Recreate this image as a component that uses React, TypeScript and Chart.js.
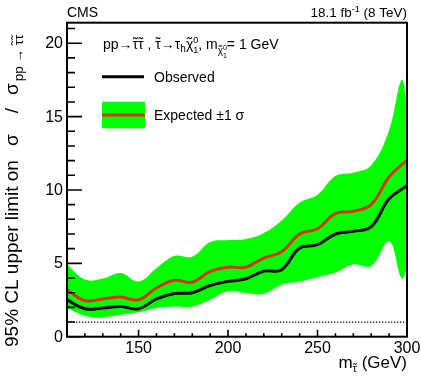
import { useEffect, useRef } from "react";
import { Chart, registerables } from "chart.js";

Chart.register(...registerables);

// Stau mass points (GeV)
const masses = [110, 120, 130, 140, 150, 160, 170, 180, 190, 200, 210, 220, 230, 240, 250, 260, 270, 280, 290, 300];
// 95% CL upper limits on sigma / sigma_theory
const observed = [2.52, 1.91, 1.96, 2.06, 1.91, 2.57, 2.94, 3.0, 3.49, 3.77, 3.95, 4.47, 4.57, 6.04, 6.27, 7.0, 7.18, 7.5, 9.4, 10.29];
const expected = [3.2, 2.46, 2.57, 2.7, 2.52, 3.32, 3.84, 3.71, 4.45, 4.74, 4.74, 5.36, 5.79, 7.0, 7.36, 8.39, 8.54, 9.0, 10.89, 12.04];
// +-1 sigma band on the expected limit
const bandMasses = [110, 120, 130, 140, 150, 160, 170, 180, 190, 200, 210, 220, 230, 240, 250, 260, 270, 280, 290, 297, 300];
const bandLow = [1.96, 1.43, 1.34, 1.5, 1.66, 1.96, 2.06, 2.06, 2.52, 3.09, 2.98, 2.92, 3.56, 3.76, 4.06, 4.37, 4.93, 4.82, 6.5, 3.96, 4.6];
const bandHigh = [4.93, 3.89, 3.96, 4.34, 3.77, 4.67, 5.5, 5.45, 6.45, 6.58, 6.66, 7.07, 7.92, 9.14, 9.68, 10.95, 11.17, 11.68, 14.07, 17.5, 15.8];

const xMajorTicks = [150, 200, 250, 300];
const xMinorTicks = [120, 130, 140, 160, 170, 180, 190, 210, 220, 230, 240, 260, 270, 280, 290];
const yMajorTicks = [0, 5, 10, 15, 20];
const yMinorTicks = [1, 2, 3, 4, 6, 7, 8, 9, 11, 12, 13, 14, 16, 17, 18, 19, 21];
const referenceLevel = 1;

const FONT = "'Liberation Sans', Arial, Helvetica, sans-serif";
const GREEN = "#00ff00";
const RED = "#d8321e";

// A run of text; `tilde` puts a small tilde over the glyph(s)
type Seg = { t: string; size: number; dy?: number; stack?: boolean; dx?: number; tilde?: boolean };

function layoutRich(ctx: CanvasRenderingContext2D, segs: Seg[]) {
  const starts: number[] = [];
  const widths: number[] = [];
  let cx = 0;
  let prevStart = 0;
  let prevW = 0;
  for (const s of segs) {
    ctx.font = `${s.size}px ${FONT}`;
    const w = ctx.measureText(s.t).width;
    let start: number;
    if (s.stack) {
      start = prevStart;
      cx = Math.max(prevStart + prevW, start + w);
      prevW = Math.max(prevW, w);
    } else {
      start = cx + (s.dx || 0);
      cx = start + w;
      prevW = w;
    }
    prevStart = start;
    starts.push(start);
    widths.push(w);
  }
  return { starts, widths, total: cx };
}

function drawRich(ctx: CanvasRenderingContext2D, x: number, y: number, segs: Seg[], align: "left" | "right" = "left") {
  const { starts, widths, total } = layoutRich(ctx, segs);
  const ox = align === "right" ? x - total : x;
  ctx.textBaseline = "alphabetic";
  segs.forEach((s, i) => {
    ctx.font = `${s.size}px ${FONT}`;
    ctx.textAlign = "left";
    const sx = ox + starts[i];
    const sy = y + (s.dy || 0);
    ctx.fillText(s.t, sx, sy);
    if (s.tilde) {
      ctx.textAlign = "center";
      ctx.fillText("˜", sx + widths[i] / 2, sy - s.size * 0.08);
    }
  });
  ctx.textAlign = "left";
  return total;
}

const decorations = {
  id: "limitDecorations",
  afterDatasetsDraw(chart: Chart) {
    const { ctx, chartArea, scales } = chart;
    const y = scales.y.getPixelForValue(referenceLevel);
    ctx.save();
    ctx.strokeStyle = "#000";
    ctx.lineWidth = 1.2;
    ctx.setLineDash([1.3, 1.7]);
    ctx.beginPath();
    ctx.moveTo(chartArea.left, y);
    ctx.lineTo(chartArea.right, y);
    ctx.stroke();
    ctx.restore();
  },
  afterDraw(chart: Chart) {
    const { ctx, chartArea, scales } = chart;
    const { left, right, top, bottom } = chartArea;
    ctx.save();
    ctx.fillStyle = "#000";
    ctx.strokeStyle = "#000";

    // frame
    ctx.lineWidth = 2;
    ctx.strokeRect(left, top, right - left, bottom - top);

    // y ticks (inside the frame)
    ctx.lineWidth = 1.6;
    ctx.beginPath();
    for (const v of yMajorTicks) {
      const py = scales.y.getPixelForValue(v);
      ctx.moveTo(left, py);
      ctx.lineTo(left + 15, py);
    }
    for (const v of yMinorTicks) {
      const py = scales.y.getPixelForValue(v);
      ctx.moveTo(left, py);
      ctx.lineTo(left + 8, py);
    }
    // x ticks
    for (const v of xMajorTicks) {
      const px = scales.x.getPixelForValue(v);
      ctx.moveTo(px, bottom);
      ctx.lineTo(px, bottom - 7);
    }
    for (const v of xMinorTicks) {
      const px = scales.x.getPixelForValue(v);
      ctx.moveTo(px, bottom);
      ctx.lineTo(px, bottom - 3.5);
    }
    ctx.stroke();

    // tick labels
    ctx.font = `16px ${FONT}`;
    ctx.textAlign = "right";
    ctx.textBaseline = "middle";
    for (const v of yMajorTicks) {
      ctx.fillText(String(v), left - 4, scales.y.getPixelForValue(v) + 0.5);
    }
    ctx.textAlign = "center";
    ctx.textBaseline = "alphabetic";
    for (const v of xMajorTicks) {
      ctx.fillText(String(v), scales.x.getPixelForValue(v), 353);
    }

    // x-axis title
    drawRich(
      ctx,
      right,
      368,
      [
        { t: "m", size: 17 },
        { t: "τ", size: 11, dy: 4, tilde: true },
        { t: " (GeV)", size: 17 },
      ],
      "right"
    );

    // y-axis title (rotated, reading upwards from the bottom)
    const ySegs: Seg[] = [
      { t: "95% CL upper limit on", size: 19 },
      { t: "σ", size: 19, dx: 14 },
      { t: "/", size: 19, dx: 21 },
      { t: "σ", size: 19, dx: 13 },
      { t: "pp → ", size: 13.5, dy: 5, dx: 2 },
      { t: "τ", size: 13.5, dy: 5, tilde: true },
      { t: "τ", size: 13.5, dy: 5, tilde: true },
    ];
    ctx.save();
    ctx.translate(17.5, 347);
    ctx.rotate(-Math.PI / 2);
    drawRich(ctx, 0, 0, ySegs);
    ctx.restore();

    // header
    ctx.font = `14px ${FONT}`;
    ctx.textAlign = "left";
    ctx.fillText("CMS", left, 16.7);
    drawRich(
      ctx,
      right,
      16.7,
      [
        { t: "18.1 fb", size: 13.5 },
        { t: "-1", size: 9, dy: -5 },
        { t: " (8 TeV)", size: 13.5 },
      ],
      "right"
    );

    // legend
    drawRich(ctx, 103, 49, [
      { t: "pp→", size: 14 },
      { t: "τ", size: 14, tilde: true },
      { t: "τ", size: 14, tilde: true },
      { t: " , ", size: 14 },
      { t: "τ", size: 14, tilde: true },
      { t: "→τ", size: 14 },
      { t: "h", size: 10, dy: 3 },
      { t: "χ", size: 14, tilde: true },
      { t: "0", size: 9, dy: -6 },
      { t: "1", size: 9, dy: 4, stack: true },
      { t: ", m", size: 14 },
      { t: "χ", size: 10, dy: 5, tilde: true },
      { t: "0", size: 7, dy: 1 },
      { t: "1", size: 7, dy: 9, stack: true },
      { t: "= 1 GeV", size: 14 },
    ]);

    ctx.lineWidth = 3;
    ctx.strokeStyle = "#000";
    ctx.beginPath();
    ctx.moveTo(102, 76.7);
    ctx.lineTo(144, 76.7);
    ctx.stroke();
    ctx.font = `14px ${FONT}`;
    ctx.textAlign = "left";
    ctx.fillText("Observed", 154, 81.7);

    ctx.fillStyle = GREEN;
    ctx.fillRect(102, 101.7, 43, 26.6);
    ctx.strokeStyle = RED;
    ctx.beginPath();
    ctx.moveTo(102, 115);
    ctx.lineTo(145, 115);
    ctx.stroke();
    ctx.fillStyle = "#000";
    ctx.fillText("Expected ±1 σ", 154, 120);

    ctx.restore();
  },
};

export default function App() {
  const canvasRef = useRef<HTMLCanvasElement | null>(null);

  useEffect(() => {
    const canvas = canvasRef.current;
    if (!canvas) return;
    const toPoints = (xs: number[], ys: number[]) => xs.map((x, i) => ({ x, y: ys[i] }));
    const chart = new Chart(canvas, {
      type: "line",
      data: {
        datasets: [
          {
            label: "Observed",
            data: toPoints(masses, observed),
            borderColor: "#000",
            borderWidth: 3,
            pointRadius: 0,
            tension: 0.4,
            fill: false,
          },
          {
            label: "Expected",
            data: toPoints(masses, expected),
            borderColor: RED,
            borderWidth: 3,
            pointRadius: 0,
            tension: 0.4,
            fill: false,
          },
          {
            label: "Expected +1 sigma",
            data: toPoints(bandMasses, bandHigh),
            borderColor: "rgba(0,0,0,0)",
            borderWidth: 0,
            backgroundColor: GREEN,
            pointRadius: 0,
            tension: 0.4,
            fill: "+1",
          },
          {
            label: "Expected -1 sigma",
            data: toPoints(bandMasses, bandLow),
            borderColor: "rgba(0,0,0,0)",
            borderWidth: 0,
            pointRadius: 0,
            tension: 0.4,
            fill: false,
          },
        ],
      },
      options: {
        animation: false,
        responsive: false,
        events: [],
        layout: { padding: { left: 67, right: 14, top: 22.7, bottom: 43.3 } },
        plugins: { legend: { display: false }, tooltip: { enabled: false } },
        scales: {
          x: { type: "linear", min: 110, max: 300, display: false },
          y: { type: "linear", min: 0, max: 21.4, display: false },
        },
      },
      plugins: [decorations],
    });
    return () => chart.destroy();
  }, []);

  return (
    <div style={{ position: "absolute", left: 0, top: 0, width: 421, height: 380, background: "#fff" }}>
      <canvas ref={canvasRef} width={421} height={380} style={{ display: "block" }} />
    </div>
  );
}
